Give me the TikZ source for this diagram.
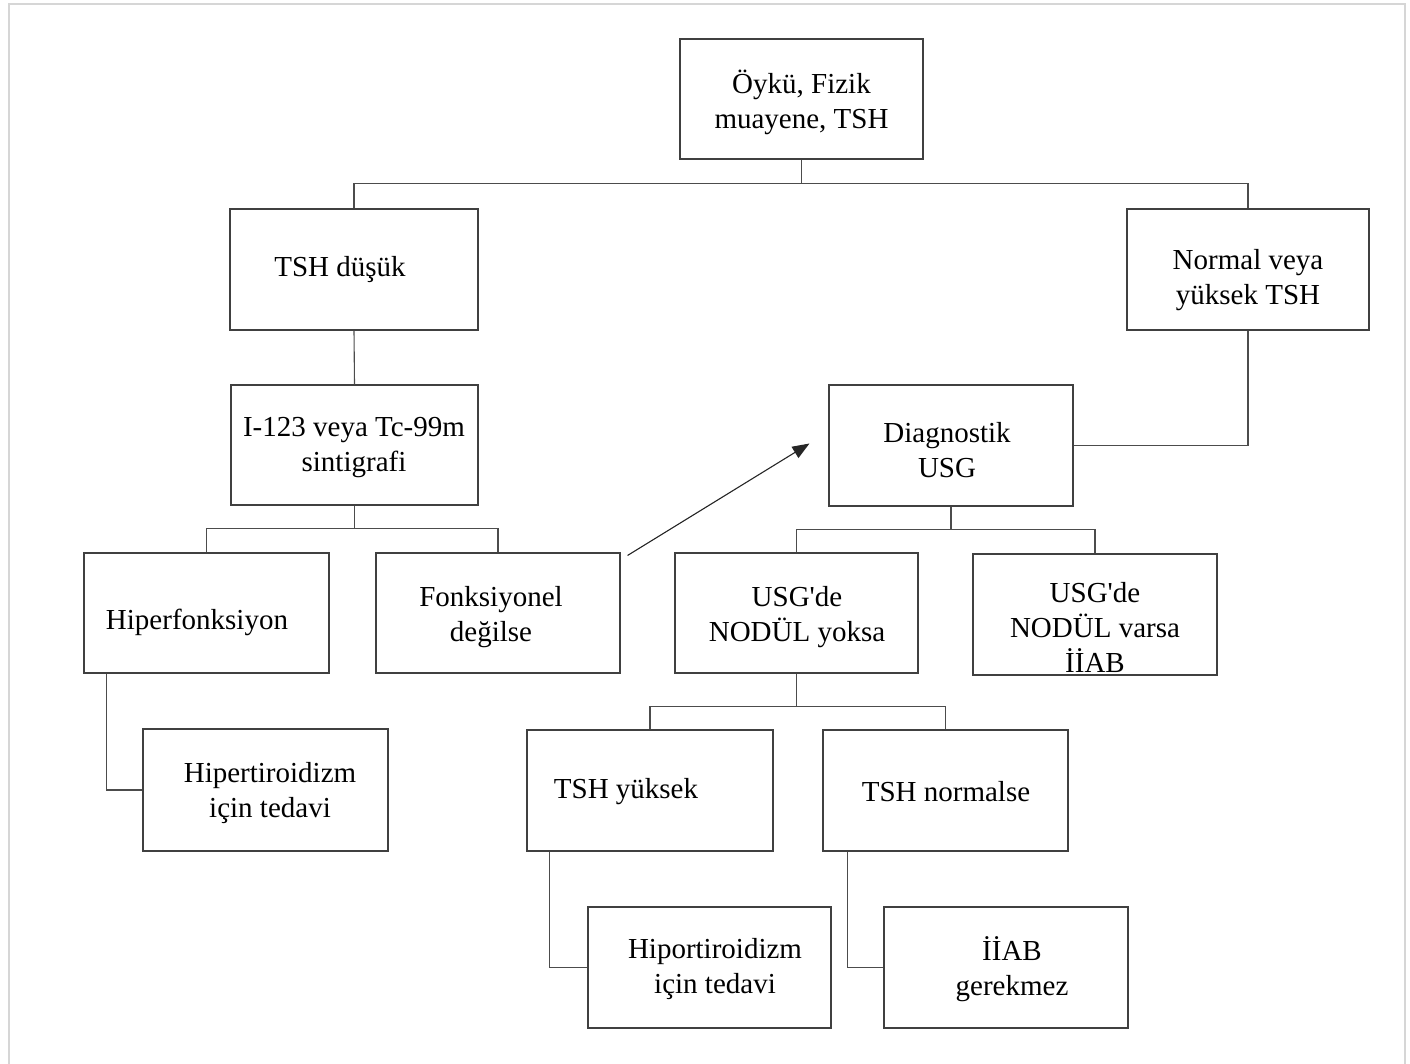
\documentclass[tikz,border=0pt]{standalone}
\usepackage{fontspec}
\setmainfont{Liberation Serif}[Ligatures=TeXOff]
\usetikzlibrary{arrows.meta}
\begin{document}
\begin{tikzpicture}[x=1pt,y=-1pt,
  box/.style={draw=black!75, line width=1.1pt, minimum width=245pt, minimum height=121pt, inner sep=0pt},
  txt/.style={align=center, inner sep=0pt, font=\fontsize{29pt}{35pt}\selectfont},
  conn/.style={draw=black!70, line width=1.1pt}]
\useasboundingbox (0,0) rectangle (1410,1063);
\draw[black!16, line width=2.2pt] (9,4) rectangle (1405,1075);

% boxes
\node[box, minimum width=243pt, minimum height=120pt] (top) at (801.5,99) {};
\node[box, minimum width=248pt] (dusuk) at (354,269.5) {};
\node[box, minimum width=242pt] (normal) at (1248,269.5) {};
\node[box, minimum width=247pt, minimum height=120pt] (sint) at (354.5,445) {};
\node[box, minimum height=120pt] (hiper) at (206.5,613) {};
\node[box, minimum width=244pt, minimum height=120pt] (fonk) at (498,613) {};
\node[box, minimum height=122pt] (hipt) at (265.5,790) {};
\node[box, minimum width=244pt] (diag) at (951,445.5) {};
\node[box, minimum width=243pt, minimum height=120pt] (yoksa) at (796.5,613) {};
\node[box, minimum width=244pt] (varsa) at (1095,614.5) {};
\node[box, minimum width=246pt] (yuksek) at (650,790.5) {};
\node[box] (normalse) at (945.5,790.5) {};
\node[box, minimum width=243pt] (hipo) at (709.5,967.5) {};
\node[box, minimum width=244pt] (gerek) at (1006,967.5) {};

% texts
\node[txt] (ttop) at (801.5,102) {Öykü, Fizik\\muayene, TSH};
\node[txt] (tdusuk) at (340,270) {TSH düşük};
\node[txt] (tnormal) at (1248,280) {Normal veya\\yüksek TSH};
\node[txt] (tsint) at (354,448) {I-123 veya Tc-99m\\sintigrafi};
\node[txt] (thiper) at (197,622) {Hiperfonksiyon};
\node[txt] (tfonk) at (491,617) {Fonksiyonel\\değilse};
\node[txt] (thipt) at (270,793) {Hipertiroidizm\\için tedavi};
\node[txt] (tdiag) at (947,450) {Diagnostik\\USG};
\node[txt] (tyoksa) at (797,617) {USG'de\\NODÜL yoksa};
\node[txt] (tvarsa) at (1095,627) {USG'de\\NODÜL varsa\\İİAB};
\node[txt] (tyuksek) at (626,792) {TSH yüksek};
\node[txt] (tnormalse) at (946,792) {TSH normalse};
\node[txt] (thipo) at (715,969) {Hiportiroidizm\\için tedavi};
\node[txt] (tgerek) at (1012,969) {İİAB\\gerekmez};

% connectors
\draw[conn] (top.south) -- ++(0,24) coordinate (j1);
\draw[conn] (dusuk.north) |- (j1) -| (normal.north);
\draw[conn] (dusuk.south) -- (sint.north);
\draw[conn] (sint.south) -- ++(0,23) coordinate (j2);
\draw[conn] (hiper.north) |- (j2) -| (fonk.north);
\draw[conn] ([xshift=23pt]hiper.south west) |- (hipt.west);
\draw[conn] (normal.south) |- (diag.east);
\draw[conn] (diag.south) -- ++(0,22.5) coordinate (j3);
\draw[conn] (yoksa.north) |- (j3) -| (varsa.north);
\draw[conn] (yoksa.south) -- ++(0,33) coordinate (j4);
\draw[conn] (yuksek.north) |- (j4) -| (normalse.north);
\draw[conn] ([xshift=23pt]yuksek.south west) |- (hipo.west);
\draw[conn] ([xshift=25pt]normalse.south west) |- (gerek.west);

% arrow
\coordinate (a1) at ([shift={(7pt,-3pt)}]fonk.north east);
\coordinate (a2) at ([shift={(-19pt,2pt)}]diag.west);
\draw[black!85, line width=1.1pt, -{Triangle[length=17pt,width=13pt]}] (a1) -- (a2);
\end{tikzpicture}
\end{document}
